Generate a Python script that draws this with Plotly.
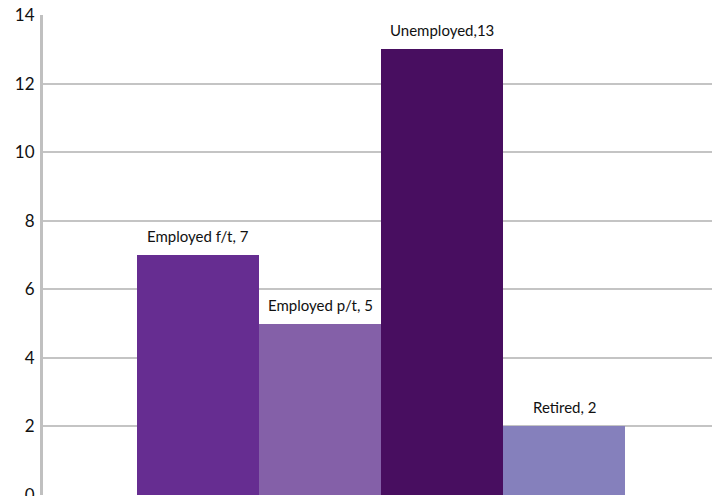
import plotly.graph_objects as go

categories = ["Employed f/t", "Employed p/t", "Unemployed", "Retired"]
values = [7, 5, 13, 2]
label_texts = ["Employed f/t, 7", "Employed p/t, 5", "Unemployed,13", "Retired, 2"]
colors = ["#662D91", "#8460A8", "#480E60", "#8580BC"]
y_ticks = [0, 2, 4, 6, 8, 10, 12, 14]

FONT = "Lato, 'Open Sans', sans-serif"

fig = go.Figure()
fig.add_trace(go.Bar(
    x=list(range(len(categories))),
    y=values,
    width=1.0,
    marker=dict(color=colors, line=dict(width=0)),
    hoverinfo="skip",
    showlegend=False,
))

for i, (v, t) in enumerate(zip(values, label_texts)):
    fig.add_annotation(
        x=i, y=v, text=t, showarrow=False,
        yanchor="middle", yshift=19,
        font=dict(family=FONT, size=15, color="#111111"),
    )

fig.update_layout(
    width=712, height=496,
    margin=dict(l=43, r=0, t=15, b=1),
    paper_bgcolor="white", plot_bgcolor="white",
    bargap=0,
    xaxis=dict(range=[-0.5 - 94 / 122, 3.5 + 87 / 122], showticklabels=False, showgrid=False,
               zeroline=False, showline=False, ticks="", automargin=False),
    yaxis=dict(range=[0, 14], tickvals=y_ticks, showgrid=True,
               gridcolor="#c4c4c4", gridwidth=2, zeroline=False,
               showline=True, linecolor="#c0c0c0", linewidth=3,
               ticks="", ticklen=0, automargin=False,
               ticklabeloverflow="allow", ticklabelstandoff=2,
               tickfont=dict(family=FONT, size=17, color="#111111")),
)

fig.write_html(
    "out.html",
    config={"displayModeBar": False},
    post_script="document.body.style.margin='0';document.body.style.overflow='hidden';",
)
